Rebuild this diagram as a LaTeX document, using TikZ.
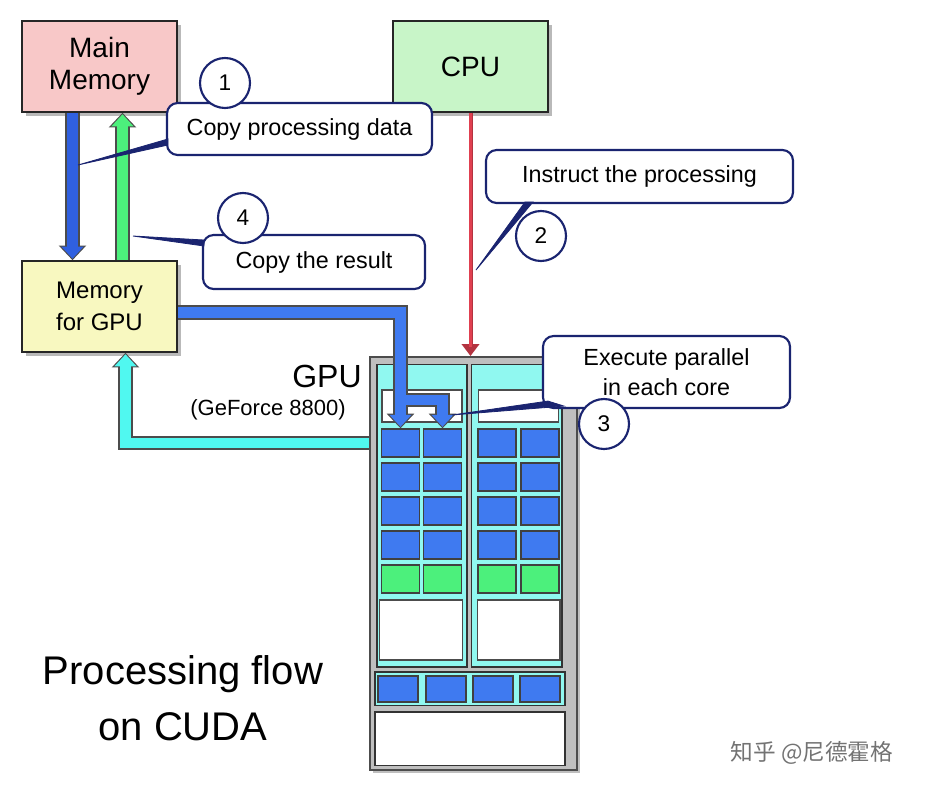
\documentclass[tikz,border=0pt]{standalone}
\usepackage{fontspec}
\setmainfont{Liberation Sans}
\newfontfamily\cjk{Noto Sans CJK SC}
\usetikzlibrary{calc,arrows.meta,shadows}
\definecolor{navy}{HTML}{1A2470}
\definecolor{pinkb}{HTML}{F8C8C8}
\definecolor{greenb}{HTML}{C8F5C8}
\definecolor{yellowb}{HTML}{F8F8C0}
\definecolor{blueP}{HTML}{3F7AF0}
\definecolor{blueD}{HTML}{3060E0}
\definecolor{greenP}{HTML}{4CF07C}
\definecolor{cyanP}{HTML}{50F8F0}
\definecolor{smcyan}{HTML}{90F8F0}
\definecolor{redP}{HTML}{E04050}
\tikzset{
 box/.style={draw=black!85,line width=1.2pt,minimum width=116.25pt,minimum height=68.25pt,align=center,font=\fontsize{21}{24}\selectfont,drop shadow={shadow xshift=3pt,shadow yshift=-3pt,fill=black!55}},
 callout/.style={draw=navy,line width=1.6pt,fill=white,rounded corners=8pt,align=center,font=\fontsize{17.5}{20}\selectfont},
 num/.style={draw=navy,line width=1.6pt,fill=white,circle,minimum size=37.5pt,inner sep=0pt,font=\fontsize{17}{19}\selectfont},
 wedge/.style={draw=navy,fill=navy,line width=0.6pt},
 pout/.style={line width=11pt,draw=black!70},
 pin/.style={line width=8pt},
 cell/.style={draw=black!75,line width=1pt,minimum width=28.5pt,minimum height=21pt,inner sep=0pt},
}
\begin{document}
\begin{tikzpicture}[x=0.75pt,y=-0.75pt]
\useasboundingbox (0,0) rectangle (935,792);
% boxes
\node[box,fill=pinkb] (mm) at (99.5,66.5) {Main\\Memory};
\node[box,fill=greenb] (cpu) at (470.5,66.5) {CPU};
\node[box,fill=yellowb,font=\fontsize{18}{24}\selectfont] (mg) at (99.5,306.5) {Memory\\for GPU};
% GPU
\node[draw=black!70,line width=1.5pt,fill=black!25,minimum width=155.25pt,minimum height=309.75pt,inner sep=0pt,drop shadow={shadow xshift=2pt,shadow yshift=-2pt,fill=black!50}] (gpu) at (473.5,563.5) {};
\node[draw=black!80,line width=1pt,fill=smcyan,minimum width=67.5pt,minimum height=227pt,inner sep=0pt] (sml) at (422,515.5) {};
\node[draw=black!80,line width=1pt,fill=smcyan,minimum width=68pt,minimum height=227pt,inner sep=0pt] (smr) at (516.5,515.5) {};
\node[draw=black!70,line width=1pt,fill=white,minimum width=60pt,minimum height=24pt,inner sep=0pt] (wl) at (422,406) {};
\node[draw=black!70,line width=1pt,fill=white,minimum width=60pt,minimum height=24pt,inner sep=0pt] (wr) at (518.5,406) {};
\foreach \r/\y/\c in {1/443/blueP,2/477/blueP,3/511/blueP,4/545/blueP,5/579/greenP}{
 \node[cell,fill=\c] (l\r1) at (400.5,\y) {};
 \node[cell,fill=\c] (l\r2) at (442.5,\y) {};
 \node[cell,fill=\c] (r\r1) at (497,\y) {};
 \node[cell,fill=\c] (r\r2) at (540,\y) {};
}
\node[draw=black!70,line width=1pt,fill=white,minimum width=62pt,minimum height=45pt,inner sep=0pt] (bl) at (421,630) {};
\node[draw=black!70,line width=1pt,fill=white,minimum width=62pt,minimum height=45pt,inner sep=0pt] (br) at (518.5,630) {};
\node[draw=black!80,line width=1pt,fill=smcyan,minimum width=142.5pt,minimum height=25pt,inner sep=0pt] (band) at (470,688.5) {};
\foreach \i/\x in {1/398,2/446,3/493,4/540}{
 \node[cell,fill=blueP,minimum width=30pt,minimum height=19.5pt] (b\i) at (\x,689) {};
}
\node[draw=black!80,line width=1pt,fill=white,minimum width=142.5pt,minimum height=40pt,inner sep=0pt] (bot) at (470,738.5) {};
% pipes
\coordinate (br1) at (400.5,400);
\draw[pout,-{Triangle[length=11pt,width=20pt]}] (br1) -| (l12.north);
\draw[pout,-{Triangle[length=11pt,width=20pt]}] ($(mg.east)+(0,6)$) -| (l11.north);
\draw[pin,draw=blueP,-{Triangle[length=9pt,width=16pt]}] (br1) -| ($(l12.north)+(0,-1.5)$);
\draw[pin,draw=blueP,-{Triangle[length=9pt,width=16pt]}] ($(mg.east)+(0,6)$) -| ($(l11.north)+(0,-1.5)$);
\draw[pout,-{Triangle[length=11pt,width=20pt]}] (gpu.west |- l11) -| ($(mg.south)+(26,0)$);
\draw[pin,draw=cyanP,-{Triangle[length=9pt,width=16pt]}] (gpu.west |- l11) -| ($(mg.south)+(26,1.5)$);
\draw[pout,-{Triangle[length=11pt,width=20pt]}] ($(mm.south)+(-27,0)$) -- ($(mg.north)+(-27,0)$);
\draw[pin,draw=blueD,-{Triangle[length=9pt,width=16pt]}] ($(mm.south)+(-27,0)$) -- ($(mg.north)+(-27,-1.5)$);
\draw[pout,-{Triangle[length=11pt,width=20pt]}] ($(mg.north)+(23,0)$) -- ($(mm.south)+(23,0)$);
\draw[pin,draw=greenP,-{Triangle[length=9pt,width=16pt]}] ($(mg.north)+(23,0)$) -- ($(mm.south)+(23,1.5)$);
\draw[line width=3pt,draw=redP!80!black,-{Triangle[length=9pt,width=13pt]}] (cpu.south) -- (cpu.south |- gpu.north);
\draw[line width=1.8pt,draw=redP] (cpu.south) -- ($(cpu.south |- gpu.north)+(0,-9)$);
% labels
\node[font=\fontsize{24}{26}\selectfont] (gl) at (327,376) {GPU};
\node[font=\fontsize{16.5}{18}\selectfont] (gf) at (268,410) {(GeForce 8800)};
\node[font=\fontsize{30}{42}\selectfont,align=center] (title) at (183,698) {Processing flow\\on CUDA};
\node[font=\cjk\fontsize{17}{20}\selectfont,text=black!55] (wm) at (812,753) {知乎 @尼德霍格};
% callouts
\coordinate (t1) at (78,165);
\coordinate (t4) at (133,236);
\coordinate (t2) at (476,270);
\coordinate (t3) at (452,415);
\node[callout,minimum width=198.75pt,minimum height=39pt] (c1) at (299.5,129) {Copy processing data};
\node[callout,minimum width=166.5pt,minimum height=40.5pt] (c4) at (314,262) {Copy the result};
\node[callout,minimum width=230.25pt,minimum height=39.75pt] (c2) at (639.5,176.5) {Instruct the processing};
\node[callout,minimum width=185.25pt,minimum height=54pt,font=\fontsize{17.5}{22}\selectfont] (c3) at (666.5,372) {Execute parallel\\in each core};
\draw[wedge] ($(c1.west)+(2,10)$) -- (t1) -- ($(c1.west)+(2,16)$) -- cycle;
\draw[wedge] ($(c4.west)+(2,-22)$) -- (t4) -- ($(c4.west)+(2,-16)$) -- cycle;
\draw[wedge] ($(c2.south west)+(40,-2)$) -- (t2) -- ($(c2.south west)+(48,-2)$) -- cycle;
\draw[wedge] ($(c3.south west)+(6,-8)$) -- (t3) -- ($(c3.south west)+(22,-3)$) -- cycle;
\node[num] (n1) at (225,83) {1};
\node[num] (n4) at (243,218) {4};
\node[num] (n2) at (541,236) {2};
\node[num] (n3) at (604,424) {3};
\end{tikzpicture}
\end{document}
